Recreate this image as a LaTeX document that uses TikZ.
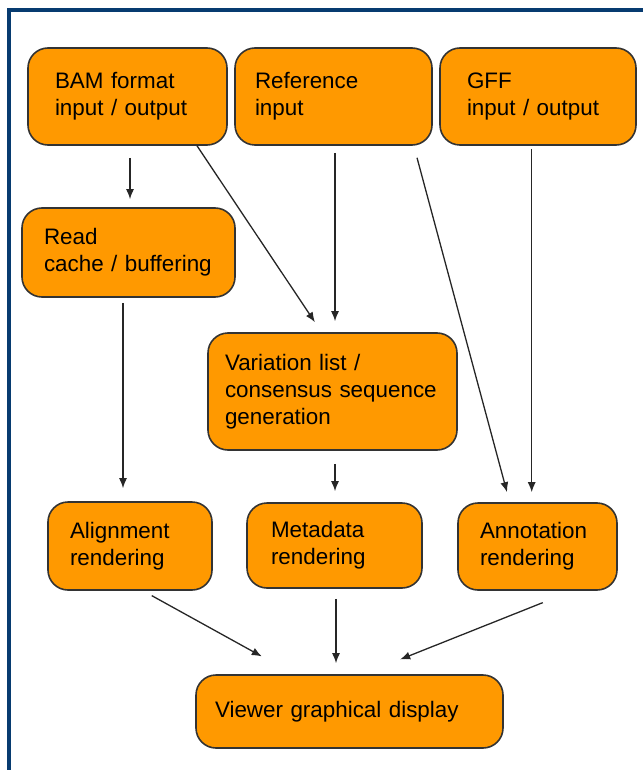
\documentclass[tikz,border=0pt]{standalone}
\usepackage{fontspec}
\setmainfont{Liberation Sans}
\usetikzlibrary{arrows.meta}
\definecolor{boxorange}{HTML}{FF9900}
\definecolor{frameblue}{HTML}{073B70}
\tikzset{
  blk/.style={draw=black!80, line width=0.8pt, fill=boxorange, rounded corners=10pt,
    align=left, inner xsep=0pt, inner ysep=0pt, font=\fontsize{11.2}{13.5}\selectfont},
  arr/.style={->, line width=0.65pt, black!85},
  >={Latex[length=5pt,width=4pt]}
}
\begin{document}
\begin{tikzpicture}[x=0.5pt,y=-0.5pt]
                \useasboundingbox (0,0) rectangle (643,770);
                \draw[frameblue, line width=2pt] (9,770) -- (9,10) -- (643,10);
                % inputs
                \node[blk, minimum width=99.5pt, minimum height=48.5pt, text width=72.5pt] (bam) at (127.5,96.5) {BAM format\\input / output};
                \node[blk, minimum width=98.5pt, minimum height=48.5pt, text width=78.5pt] (ref) at (333.5,96.5) {Reference\\input};
                \node[blk, minimum width=98pt, minimum height=48.5pt, text width=71pt] (gff) at (538,96.5) {GFF\\input / output};
                % processing
                \node[blk, minimum width=106.5pt, minimum height=44.5pt, text width=84.5pt] (read) at (128.5,252.5) {Read\\cache / buffering};
                \node[blk, minimum width=124.5pt, minimum height=58.5pt, text width=107.5pt] (var) at (332.5,391.5) {Variation list /\\consensus sequence\\generation};
                % rendering
                \node[blk, minimum width=82pt, minimum height=44pt, text width=60pt] (aln) at (130,546) {Alignment\\rendering};
                \node[blk, minimum width=87.5pt, minimum height=42.5pt, text width=63.5pt] (meta) at (334.5,545.5) {Metadata\\rendering};
                \node[blk, minimum width=79.5pt, minimum height=43.5pt, text width=57.5pt] (ann) at (537.5,546.5) {Annotation\\rendering};
                \node[blk, minimum width=153.5pt, minimum height=36.5pt, text width=134.5pt] (view) at (349.5,711.5) {Viewer graphical display};
                % flow
                \draw[arr, shorten <=6pt, shorten >=4pt] ([xshift=1.25pt]bam.south) -- ([xshift=1.25pt]bam.south |- read.north);
                \draw[arr, shorten >=6pt] ([xshift=34.75pt]bam.south) -- ([xshift=-5.45pt]var.north);
                \draw[arr, shorten <=3.5pt, shorten >=5.5pt] ([xshift=0.75pt]ref.south) -- ([xshift=0.75pt]ref.south |- var.north);
                \draw[arr, shorten <=6.2pt, shorten >=5.2pt] ([xshift=40.15pt]ref.south) -- ([xshift=-13.9pt]ann.north);
                \draw[arr, shorten <=1.5pt, shorten >=5pt] ([xshift=-3.15pt]gff.south) -- ([xshift=-3.15pt]gff.south |- ann.north);
                \draw[arr, shorten <=2.5pt, shorten >=6.5pt] ([xshift=-2.75pt]read.south) -- ([xshift=-2.75pt]read.south |- aln.north);
                \draw[arr, shorten <=6.5pt, shorten >=5.5pt] ([xshift=1.25pt]var.south) -- ([xshift=1.25pt]var.south |- meta.north);
                \draw[arr, shorten <=5pt, shorten >=18.4pt] ([xshift=6.5pt]aln.south) -- ([xshift=-27.75pt]view.north);
                \draw[arr, shorten <=5pt, shorten >=5.5pt] ([xshift=0.75pt]meta.south) -- ([xshift=0.75pt]meta.south |- view.north);
                \draw[arr, shorten <=16pt, shorten >=20pt] ([xshift=17.5pt]ann.south) -- ([xshift=6.75pt]view.north);
            \end{tikzpicture}
\end{document}
